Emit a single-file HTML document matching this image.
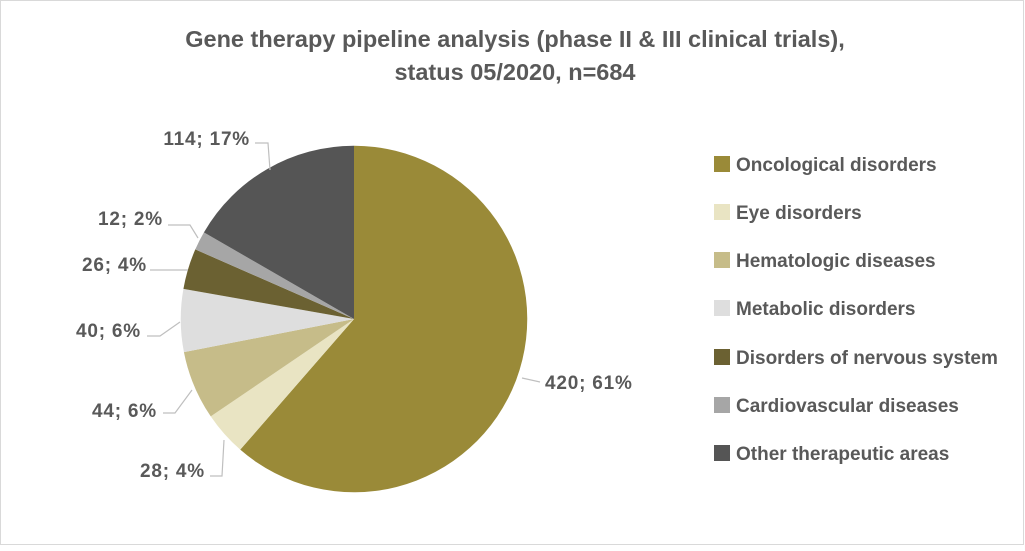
<!DOCTYPE html>
<html><head><meta charset="utf-8"><style>
body{margin:0;background:#fff}
svg text{font-family:"Liberation Sans",sans-serif;font-weight:bold;fill:#595959}
</style></head><body>
<svg width="1025" height="546" viewBox="0 0 1025 546" xmlns="http://www.w3.org/2000/svg">
<rect x="0.5" y="0.5" width="1023" height="544" fill="#fff" stroke="#d9d9d9"/>
<text x="515" y="47" font-size="23.5" text-anchor="middle">Gene therapy pipeline analysis (phase II &amp; III clinical trials),</text>
<text x="515" y="80" font-size="23.5" text-anchor="middle">status 05/2020, n=684</text>
<g stroke="none" transform="translate(354,319) scale(0.99) translate(-354,-320)">
<path d="M354,320 L354,145 A175,175 0 1,1 239.1,452.0 Z" fill="#9a8a38"/>
<path d="M354,320 L239.1,452.0 A175,175 0 0,1 209.3,418.4 Z" fill="#e9e4c3"/>
<path d="M354,320 L209.3,418.4 A175,175 0 0,1 182.2,353.5 Z" fill="#c6bc89"/>
<path d="M354,320 L182.2,353.5 A175,175 0 0,1 181.7,289.6 Z" fill="#dedede"/>
<path d="M354,320 L181.7,289.6 A175,175 0 0,1 193.7,249.7 Z" fill="#6b6132"/>
<path d="M354,320 L193.7,249.7 A175,175 0 0,1 202.4,232.5 Z" fill="#a6a6a6"/>
<path d="M354,320 L202.4,232.5 A175,175 0 0,1 354,145 Z" fill="#555555"/>
</g>
<g fill="none" stroke="#bfbfbf" stroke-width="1.2">
<polyline points="255,143 268,143 270,170"/>
<polyline points="168,225 190,225 198,238"/>
<polyline points="150,270 188,270"/>
<polyline points="147,336 160,336 180,322"/>
<polyline points="163,413 175,413 192,390"/>
<polyline points="210,476 222,476 224,440"/>
<polyline points="522,378 540,382"/>
</g>
<g font-size="19" letter-spacing="0.8">
<text x="250" y="145" text-anchor="end">114; 17%</text>
<text x="163" y="225" text-anchor="end">12; 2%</text>
<text x="147" y="271" text-anchor="end">26; 4%</text>
<text x="141" y="337" text-anchor="end">40; 6%</text>
<text x="157" y="417" text-anchor="end">44; 6%</text>
<text x="205" y="477" text-anchor="end">28; 4%</text>
<text x="545" y="389">420; 61%</text>
</g>
<g font-size="19">
<rect x="714" y="156" width="16" height="16" fill="#9a8a38"/><text x="736" y="171">Oncological disorders</text>
<rect x="714" y="204" width="16" height="16" fill="#e9e4c3"/><text x="736" y="219">Eye disorders</text>
<rect x="714" y="252" width="16" height="16" fill="#c6bc89"/><text x="736" y="267">Hematologic diseases</text>
<rect x="714" y="300" width="16" height="16" fill="#dedede"/><text x="736" y="315">Metabolic disorders</text>
<rect x="714" y="349" width="16" height="16" fill="#6b6132"/><text x="736" y="364">Disorders of nervous system</text>
<rect x="714" y="397" width="16" height="16" fill="#a6a6a6"/><text x="736" y="412">Cardiovascular diseases</text>
<rect x="714" y="445" width="16" height="16" fill="#555555"/><text x="736" y="460">Other therapeutic areas</text>
</g>
</svg>
</body></html>
